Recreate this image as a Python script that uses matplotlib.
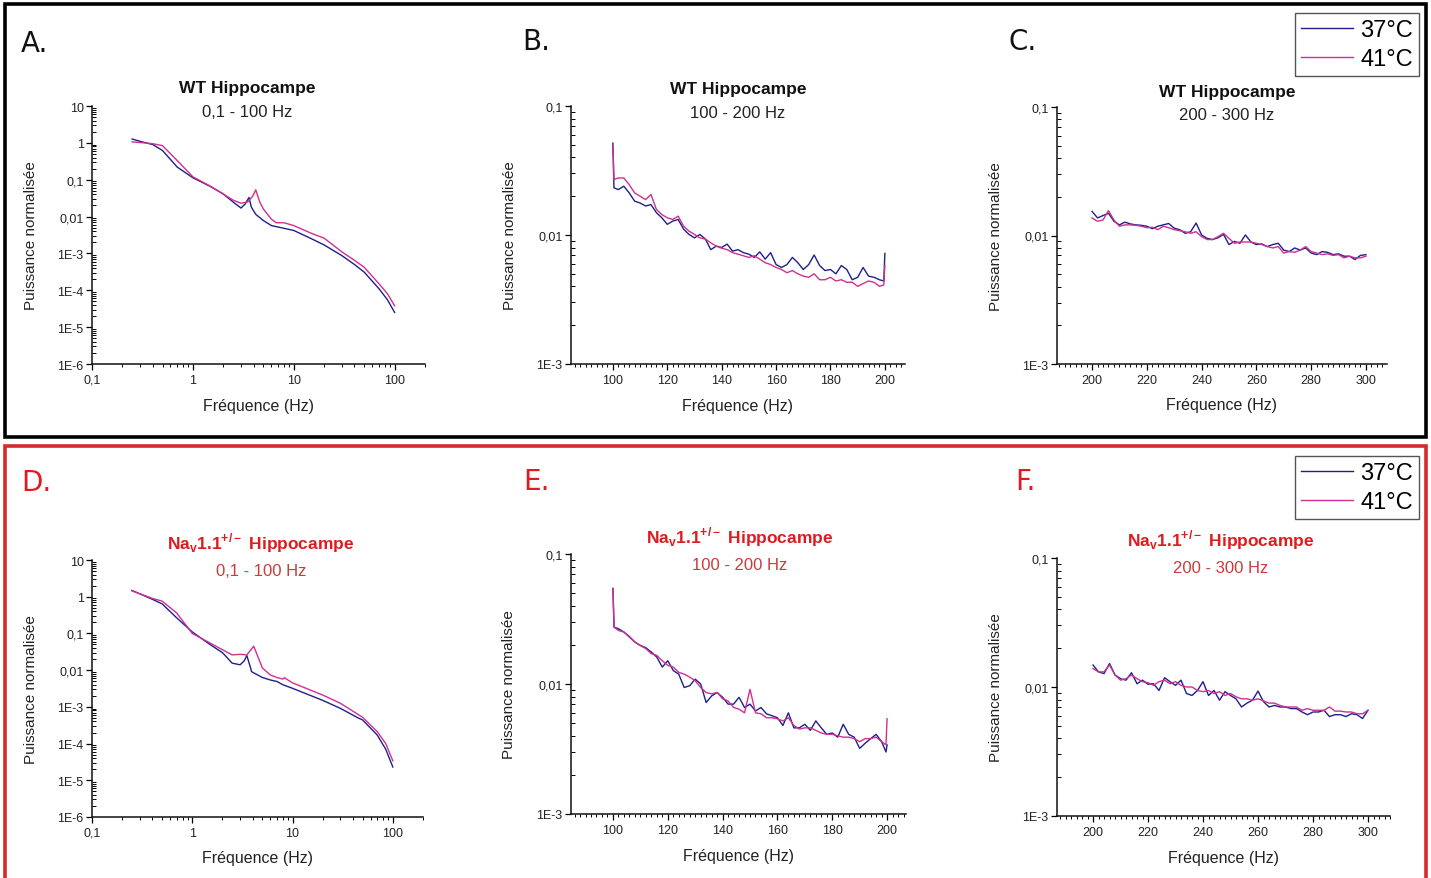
#!/usr/bin/env python3
"""Normalised power spectra, WT vs Nav1.1+/- hippocampus, 37 vs 41 degC."""

import matplotlib
matplotlib.use("Agg")
import matplotlib.pyplot as plt
from matplotlib.lines import Line2D
from matplotlib.patches import Rectangle
from matplotlib.ticker import LogLocator, MultipleLocator, NullFormatter

W, H = 1431, 879

BLUE = "#1f1f8c"
PINK = "#d0308f"
RED = "#e01b1f"
RED_SUB = "#cc3a3a"
TXT = "#222222"

plt.rcParams.update({
    "font.family": "Liberation Sans",
    "mathtext.fontset": "custom",
    "mathtext.rm": "Liberation Sans",
    "mathtext.bf": "Liberation Sans:bold",
})

# ---- data -----------------------------------------------------------------
# A: WT, 0.1-100 Hz
a_freq_37 = [0.25, 0.3, 0.4, 0.5, 0.7, 1, 1.5, 2, 2.5, 3, 3.3, 3.6, 3.8, 4.2,
             5, 6, 8, 10, 15, 20, 30, 40, 50, 70, 85, 100]
a_pow_37 = [1.27, 1.1, 0.9, 0.62, 0.22, 0.113, 0.065, 0.041, 0.025, 0.017,
            0.022, 0.033, 0.018, 0.0115, 0.0078, 0.0057, 0.0048, 0.0042,
            0.0025, 0.0017, 8.7e-4, 5e-4, 3.1e-4, 1.1e-4, 5.5e-5, 2.5e-5]
a_freq_41 = [0.25, 0.3, 0.4, 0.5, 0.7, 1, 1.5, 2, 2.5, 3, 3.5, 3.9, 4.2, 4.6,
             5, 6, 6.7, 8, 10, 15, 20, 30, 40, 50, 70, 85, 100]
a_pow_41 = [1.06, 1.02, 0.95, 0.84, 0.33, 0.12, 0.066, 0.041, 0.028, 0.023,
            0.025, 0.035, 0.053, 0.025, 0.016, 0.0085, 0.0068, 0.0068, 0.0057,
            0.0035, 0.0026, 1.1e-3, 6.5e-4, 4.2e-4, 1.5e-4, 8e-5, 3.8e-5]

# D: Nav1.1+/-, 0.1-100 Hz
d_freq_37 = [0.25, 0.3, 0.4, 0.5, 0.7, 1, 1.5, 2, 2.5, 3, 3.3, 3.5, 3.8, 3.9,
             5, 6, 7, 8, 10, 20, 30, 45, 50, 70, 85, 100]
d_pow_37 = [1.48, 1.2, 0.85, 0.64, 0.265, 0.11, 0.05, 0.030, 0.0155, 0.014,
            0.018, 0.025, 0.012, 0.0091, 0.0063, 0.0054, 0.0049, 0.004, 0.0032,
            0.0015, 9.1e-4, 5e-4, 4.4e-4, 1.7e-4, 7e-5, 2.3e-5]
d_freq_41 = [0.25, 0.3, 0.4, 0.5, 0.7, 1, 1.5, 2, 2.5, 3, 3.5, 4.1, 5, 6, 7,
             8, 8.3, 10, 20, 30, 50, 70, 85, 100]
d_pow_41 = [1.45, 1.2, 0.9, 0.76, 0.36, 0.10, 0.055, 0.036, 0.026, 0.027,
            0.026, 0.045, 0.0115, 0.0074, 0.0063, 0.0057, 0.0062, 0.0045,
            0.0021, 1.25e-3, 5.2e-4, 2.1e-4, 1e-4, 3.4e-5]

# B / E: 100-200 Hz
mid_freq = [100, 100.4] + list(range(102, 199, 2)) + [199.6, 200]
b_pow_37 = [0.0515, 0.0232, 0.0225, 0.0239, 0.0212, 0.0183, 0.0177, 0.0168,
            0.0172, 0.0149, 0.0136, 0.0121, 0.0128, 0.0132, 0.0111, 0.0101,
            0.0095, 0.0101, 0.0093, 0.0077, 0.0082, 0.0080, 0.0085, 0.0075,
            0.0077, 0.0073, 0.0071, 0.0067, 0.0074, 0.0065, 0.0073, 0.0059,
            0.0056, 0.0059, 0.0067, 0.0061, 0.0054, 0.0059, 0.0070, 0.0058,
            0.0053, 0.0054, 0.0050, 0.0058, 0.0054, 0.0045, 0.0047, 0.0056,
            0.0048, 0.0047, 0.0045, 0.0044, 0.0072]
b_pow_41 = [0.0486, 0.0269, 0.0277, 0.0277, 0.0246, 0.0212, 0.0200, 0.0188,
            0.0206, 0.0158, 0.0144, 0.0136, 0.0132, 0.0140, 0.0117, 0.0107,
            0.0101, 0.0095, 0.0093, 0.0087, 0.0082, 0.0079, 0.0077, 0.0073,
            0.0071, 0.0069, 0.0067, 0.0069, 0.0065, 0.0061, 0.0059, 0.0056,
            0.0054, 0.0051, 0.0053, 0.0050, 0.0048, 0.0047, 0.0050, 0.0045,
            0.0045, 0.0047, 0.0044, 0.0045, 0.0043, 0.0043, 0.0040, 0.0042,
            0.0044, 0.0043, 0.0040, 0.0041, 0.0058]
e_pow_37 = [0.0543, 0.0274, 0.0266, 0.0251, 0.0232, 0.0210, 0.0198, 0.0190,
            0.0176, 0.0161, 0.0135, 0.0151, 0.0127, 0.0119, 0.0094, 0.0097,
            0.0109, 0.0100, 0.0072, 0.0081, 0.0086, 0.0079, 0.0070, 0.0070,
            0.0079, 0.0066, 0.0070, 0.0062, 0.0066, 0.0059, 0.0057, 0.0055,
            0.0048, 0.0060, 0.0046, 0.0046, 0.0049, 0.0044, 0.0052, 0.0046,
            0.0041, 0.0042, 0.0039, 0.0049, 0.0041, 0.0039, 0.0032, 0.0035,
            0.0038, 0.0041, 0.0036, 0.0030, 0.0034]
e_pow_41 = [0.0543, 0.0274, 0.0258, 0.0251, 0.0229, 0.0210, 0.0198, 0.0187,
            0.0171, 0.0166, 0.0151, 0.0139, 0.0135, 0.0123, 0.0119, 0.0113,
            0.0106, 0.0094, 0.0086, 0.0084, 0.0086, 0.0077, 0.0074, 0.0066,
            0.0064, 0.0060, 0.0091, 0.0060, 0.0059, 0.0055, 0.0055, 0.0054,
            0.0052, 0.0055, 0.0048, 0.0045, 0.0046, 0.0046, 0.0044, 0.0042,
            0.0041, 0.0041, 0.0040, 0.0039, 0.0039, 0.0038, 0.0036, 0.0038,
            0.0038, 0.0039, 0.0036, 0.0034, 0.0054]

# C / F: 200-300 Hz
high_freq = list(range(200, 301, 2))
c_pow_37 = [0.0154, 0.0137, 0.0143, 0.0149, 0.0129, 0.0121, 0.0127, 0.0123,
            0.0121, 0.0120, 0.0118, 0.0113, 0.0118, 0.0121, 0.0124, 0.0114,
            0.0111, 0.0104, 0.0107, 0.0125, 0.0101, 0.0095, 0.0093, 0.0096,
            0.0102, 0.0085, 0.0090, 0.0087, 0.0101, 0.0089, 0.0085, 0.0086,
            0.0082, 0.0085, 0.0087, 0.0077, 0.0075, 0.0080, 0.0077, 0.0080,
            0.0073, 0.0071, 0.0075, 0.0074, 0.0071, 0.0072, 0.0069, 0.0069,
            0.0065, 0.0070, 0.0071]
c_pow_41 = [0.0137, 0.0129, 0.0132, 0.0156, 0.0132, 0.0118, 0.0121, 0.0121,
            0.0120, 0.0118, 0.0115, 0.0116, 0.0111, 0.0118, 0.0115, 0.0111,
            0.0109, 0.0107, 0.0104, 0.0107, 0.0098, 0.0093, 0.0093, 0.0098,
            0.0104, 0.0095, 0.0087, 0.0089, 0.0089, 0.0089, 0.0087, 0.0085,
            0.0082, 0.0080, 0.0082, 0.0073, 0.0075, 0.0074, 0.0077, 0.0082,
            0.0075, 0.0073, 0.0071, 0.0072, 0.0070, 0.0071, 0.0067, 0.0069,
            0.0067, 0.0067, 0.0069]
f_pow_37 = [0.0148, 0.0131, 0.0127, 0.0152, 0.0124, 0.0116, 0.0113, 0.0129,
            0.0106, 0.0113, 0.0105, 0.0106, 0.0094, 0.0118, 0.0110, 0.0103,
            0.0113, 0.0089, 0.0086, 0.0094, 0.0110, 0.0086, 0.0094, 0.0079,
            0.0092, 0.0086, 0.0081, 0.0070, 0.0075, 0.0079, 0.0093, 0.0077,
            0.0070, 0.0072, 0.0070, 0.0070, 0.0068, 0.0068, 0.0064, 0.0061,
            0.0064, 0.0064, 0.0066, 0.0059, 0.0061, 0.0061, 0.0059, 0.0062,
            0.0061, 0.0057, 0.0066]
f_pow_41 = [0.0139, 0.0131, 0.0131, 0.0148, 0.0124, 0.0113, 0.0116, 0.0124,
            0.0116, 0.0110, 0.0108, 0.0103, 0.0110, 0.0113, 0.0106, 0.0110,
            0.0103, 0.0100, 0.0100, 0.0094, 0.0092, 0.0094, 0.0089, 0.0092,
            0.0086, 0.0089, 0.0084, 0.0081, 0.0081, 0.0079, 0.0081, 0.0078,
            0.0075, 0.0075, 0.0072, 0.0070, 0.0070, 0.0070, 0.0066, 0.0068,
            0.0066, 0.0066, 0.0066, 0.0070, 0.0065, 0.0065, 0.0064, 0.0064,
            0.0062, 0.0062, 0.0066]

legend_labels = ["37°C", "41°C"]
low_yticks = [10, 1, 0.1, 0.01, 1e-3, 1e-4, 1e-5, 1e-6]
low_ylabels = ["10", "1", "0,1", "0,01", "1E-3", "1E-4", "1E-5", "1E-6"]
low_xticks = [0.1, 1, 10, 100]
low_xlabels = ["0,1", "1", "10", "100"]
hf_yticks = [0.1, 0.01, 1e-3]
hf_ylabels = ["0,1", "0,01", "1E-3"]


# ---- helpers --------------------------------------------------------------
def px_axes(fig, left, right, top, bottom):
    return fig.add_axes([left / W, 1 - bottom / H, (right - left) / W, (bottom - top) / H])


def style(ax):
    for s in ("top", "right"):
        ax.spines[s].set_visible(False)
    for s in ("left", "bottom"):
        ax.spines[s].set_linewidth(1.1)
        ax.spines[s].set_color("#111111")
    ax.tick_params(axis="x", which="major", direction="out", length=4, width=0.9,
                   labelsize=9, pad=3, labelcolor=TXT)
    ax.tick_params(axis="x", which="minor", direction="out", length=2.5, width=0.7)
    ax.tick_params(axis="y", which="major", direction="out", length=4, width=0.9,
                   labelsize=9, pad=2, labelcolor=TXT)
    ax.tick_params(axis="y", which="minor", direction="in", length=3, width=0.7)
    ax.set_yscale("log")
    ax.yaxis.set_minor_locator(LogLocator(base=10, subs=range(2, 10), numticks=30))
    ax.yaxis.set_minor_formatter(NullFormatter())
    ax.set_ylabel("Puissance normalisée", fontsize=11, color=TXT)
    ax.set_xlabel("Fréquence (Hz)", fontsize=11.5, color=TXT)
    ax.yaxis.set_label_coords(-0.163, 0.5)
    ax.xaxis.set_label_coords(0.5, -0.13)
    ax.patch.set_alpha(0)


def low_panel(ax, f37, p37, f41, p41):
    ax.plot(f37, p37, color=BLUE, lw=1.0)
    ax.plot(f41, p41, color=PINK, lw=1.0)
    style(ax)
    ax.set_xscale("log")
    ax.set_xlim(0.1, 200)
    ax.set_ylim(1e-6, 10)
    ax.set_xticks(low_xticks, low_xlabels)
    ax.xaxis.set_minor_locator(LogLocator(base=10, subs=range(2, 10), numticks=30))
    ax.xaxis.set_minor_formatter(NullFormatter())
    ax.set_yticks(low_yticks, low_ylabels)


def lin_panel(ax, freq, p37, p41, xlim, xticks):
    ax.plot(freq, p37, color=BLUE, lw=1.0)
    ax.plot(freq, p41, color=PINK, lw=1.0)
    style(ax)
    ax.set_xlim(*xlim)
    ax.set_ylim(1e-3, 0.1)
    ax.set_xticks(xticks)
    ax.xaxis.set_minor_locator(MultipleLocator(2))
    ax.set_yticks(hf_yticks, hf_ylabels)


def titles(ax, main, sub, x, y_main, y_sub, color_main="#111111", color_sub=TXT):
    ax.text(x, y_main, main, transform=ax.transAxes, ha="center", va="center",
            fontsize=12.5, fontweight="bold", color=color_main)
    ax.text(x, y_sub, sub, transform=ax.transAxes, ha="center", va="center",
            fontsize=12, color=color_sub)


# ---- figure ---------------------------------------------------------------
fig = plt.figure(figsize=(W / 100, H / 100), dpi=100)

ax_a = px_axes(fig, 92, 425, 107, 365)
ax_b = px_axes(fig, 571, 905, 107, 365)
ax_c = px_axes(fig, 1057, 1387, 108, 365)
ax_d = px_axes(fig, 92, 423, 561, 818)
ax_e = px_axes(fig, 571, 906, 555, 815)
ax_f = px_axes(fig, 1057, 1390, 559, 817)

low_panel(ax_a, a_freq_37, a_pow_37, a_freq_41, a_pow_41)
lin_panel(ax_b, mid_freq, b_pow_37, b_pow_41, (84.6, 207.4), range(100, 201, 20))
lin_panel(ax_c, high_freq, c_pow_37, c_pow_41, (187.2, 307.7), range(200, 301, 20))
low_panel(ax_d, d_freq_37, d_pow_37, d_freq_41, d_pow_41)
lin_panel(ax_e, mid_freq, e_pow_37, e_pow_41, (84.7, 206.9), range(100, 201, 20))
lin_panel(ax_f, high_freq, f_pow_37, f_pow_41, (186.9, 308.0), range(200, 301, 20))

titles(ax_a, "WT Hippocampe", "0,1 - 100 Hz", 0.465, 1.07, 0.977)
titles(ax_b, "WT Hippocampe", "100 - 200 Hz", 0.50, 1.066, 0.975)
titles(ax_c, "WT Hippocampe", "200 - 300 Hz", 0.515, 1.062, 0.97)

nav = r"Na$_\mathbf{v}$1.1$^\mathbf{+/-}$ Hippocampe"
titles(ax_d, nav, "0,1 - 100 Hz", 0.51, 1.07, 0.96, RED, RED_SUB)
titles(ax_e, nav, "100 - 200 Hz", 0.504, 1.069, 0.958, RED, RED_SUB)
titles(ax_f, nav, "200 - 300 Hz", 0.49, 1.074, 0.965, RED, RED_SUB)

# panel letters
for letter, x, y, col in [("A.", 34, 44, "#111111"), ("B.", 536, 42, "#111111"),
                          ("C.", 1023, 42, "#111111"), ("D.", 36, 483, RED),
                          ("E.", 536, 482, RED), ("F.", 1025, 482, RED)]:
    fig.text(x / W, 1 - y / H, letter, ha="center", va="center", fontsize=20,
             color=col, family="DejaVu Sans")

# frames around the two rows
fig.add_artist(Rectangle((5 / W, 1 - 438 / H), 1421 / W, 433 / H, transform=fig.transFigure,
                         fill=False, lw=2.6, ec="black"))
fig.add_artist(Rectangle((5 / W, -0.02), 1421 / W, 1 - 447 / H + 0.02, transform=fig.transFigure,
                         fill=False, lw=2.6, ec="#d42a2a"))

# legends
handles = [Line2D([], [], color=BLUE, lw=1.0), Line2D([], [], color=PINK, lw=1.0)]
for top in (14, 457):
    fig.legend(handles, legend_labels, loc="upper right",
               bbox_to_anchor=(1419 / W, 1 - top / H), fontsize=17, frameon=True,
               fancybox=False, edgecolor="#555555", framealpha=1,
               handlelength=2.2, handletextpad=0.3, borderpad=0.25,
               labelspacing=0.3, borderaxespad=0)

fig.savefig("out.png", dpi=100)
